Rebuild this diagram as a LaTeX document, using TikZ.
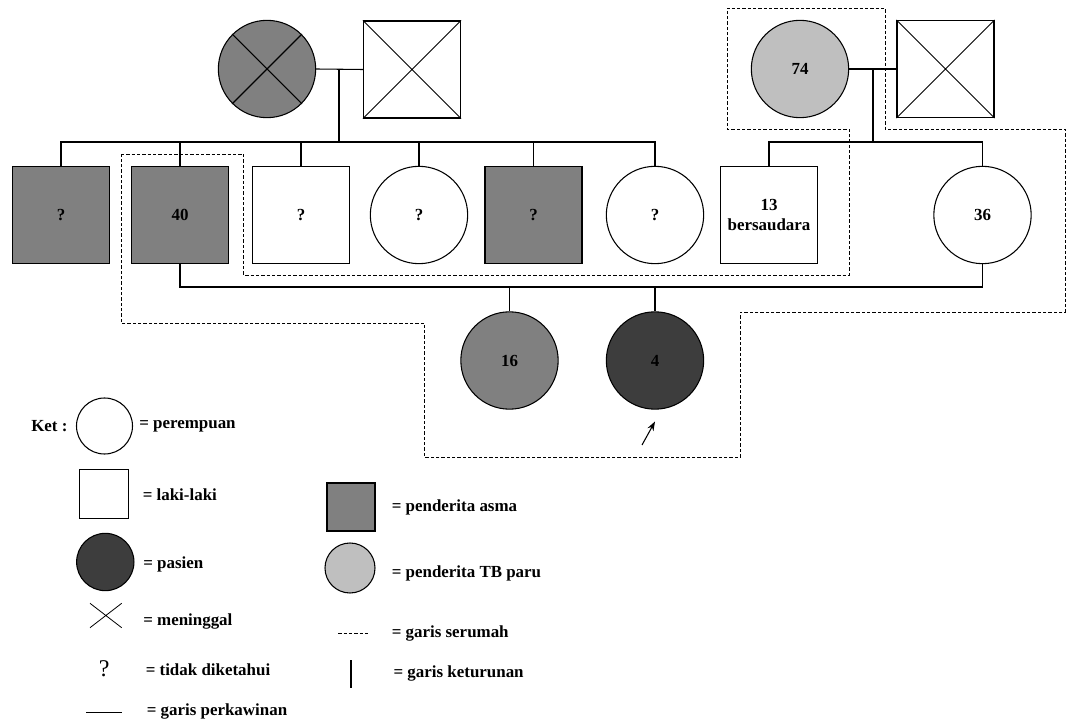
\documentclass[tikz,border=0pt]{standalone}
\usepackage{fontspec}
\setmainfont{Liberation Serif}
\usetikzlibrary{arrows.meta}

\begin{document}
\begin{tikzpicture}[
  x=0.75pt, y=-0.75pt,
  font=\bfseries\fontsize{12.7}{15.5}\selectfont,
  person/.style={draw=black, line width=0.8pt, inner sep=0pt, align=center},
  female/.style={person, circle, minimum size=73pt},
  male/.style={person, rectangle, minimum size=72.75pt},
  asma/.style={fill=black!50},
  tbparu/.style={fill=black!25},
  pasien/.style={fill=black!76},
  kin/.style={draw=black, line width=0.8pt},
  house/.style={draw=black, line width=0.6pt, dash pattern=on 2.4pt off 1.6pt},
  lab/.style={anchor=west, inner sep=0pt}
]
\useasboundingbox (0,0) rectangle (1075,720);

% generasi I
\node[female, asma] (nenek) at (267,69) {};
\draw[kin] (nenek.north west) -- (nenek.south east) (nenek.north east) -- (nenek.south west);
\node[male] (kakek) at (412,69.5) {};
\draw[kin, line width=0.6pt] (kakek.north west) -- (kakek.south east) (kakek.north east) -- (kakek.south west);
\node[female, tbparu] (nenekb) at (800,69) {74};
\node[male] (kakekb) at (945.5,69) {};
\draw[kin, line width=0.6pt] (kakekb.north west) -- (kakekb.south east) (kakekb.north east) -- (kakekb.south west);

\coordinate (ka) at (339,69);
\coordinate (sa) at (339,142);
\coordinate (kb) at (873,69);
\coordinate (sb) at (873,142);
\draw[kin] (nenek.east) -- (kakek.west);
\draw[kin] (ka) -- (sa);
\draw[kin] (nenekb.east) -- (kakekb.west);
\draw[kin] (kb) -- (sb);

% generasi II
\node[male, asma] (a1) at (61,215) {?};
\node[male, asma] (a2) at (180,215) {40};
\node[male] (a3) at (301,215) {?};
\node[female] (a4) at (419,215) {?};
\node[male, asma] (a5) at (533.5,215) {?};
\node[female] (a6) at (655,215) {?};
\node[male] (b1) at (769,215) {13\\bersaudara};
\node[female] (b2) at (982.5,215) {36};

\draw[kin] (a1.north) |- (sa) -| (a6.north);
\foreach \n in {a2,a3,a4,a5}
  \draw[kin] (\n.north) -- (\n.north |- sa);
\draw[kin] (b1.north) |- (sb) -| (b2.north);

% generasi III
\coordinate (m1) at (509.5,287);
\coordinate (m2) at (655,287);
\draw[kin] (a2.south) |- (m1) -- (m2) -| (b2.south);
\node[female, asma] (c1) at (509.5,360.5) {16};
\node[female, pasien] (c2) at (655,360.5) {4};
\draw[kin] (m1) -- (c1.north);
\draw[kin] (m2) -- (c2.north);

\coordinate (tunjuk) at (642,445);
\coordinate (ujung) at (655,421.5);
\draw[kin, -{Stealth[length=7pt, width=5pt]}] (tunjuk) -- (ujung);

% garis serumah
\draw[house] (121,154) -- (243.5,154) -- (243.5,275) -- (849,275) -- (849,129)
  -- (727,129) -- (727,8) -- (885,8) -- (885,129) -- (1065,129) -- (1065,312)
  -- (740.5,312) -- (740.5,457) -- (424.5,457) -- (424.5,323) -- (121,323) -- cycle;

% keterangan
\node[lab] (ket) at (31,426.5) {Ket :};
\node[female, minimum size=42pt] (lperempuan) at (104.5,426) {};
\node[lab] (tperempuan) at (139,426.5) {= perempuan};
\node[male, minimum size=36.75pt] (llaki) at (104,494) {};
\node[lab] (tlaki) at (142.5,495) {= laki-laki};
\node[female, pasien, minimum size=43pt] (lpasien) at (105.3,562) {};
\node[lab] (tpasien) at (143,564) {= pasien};
\draw[kin, line width=0.6pt] (90,603.3) -- (121.7,627.7) (90,627.7) -- (121.7,603.3);
\node[lab] (tmeninggal) at (143,621.5) {= meninggal};
\node[inner sep=0pt, font=\mdseries\fontsize{18}{20}\selectfont] (ltidak) at (104.3,669) {?};
\node[lab] (ttidak) at (145.5,670) {= tidak diketahui};
\draw[kin] (86,712.5) -- (121.7,712.5);
\node[lab] (tkawin) at (146.5,711.5) {= garis perkawinan};

\node[male, asma, minimum size=36pt] (lasma) at (351,507) {};
\node[lab] (tasma) at (391.5,507.5) {= penderita asma};
\node[female, tbparu, minimum size=37.5pt] (ltb) at (350,568) {};
\node[lab] (ttb) at (391.5,573) {= penderita TB paru};
\draw[house, line width=0.5pt] (338.3,633.3) -- (369.3,633.3);
\node[lab] (tserumah) at (391.5,633.3) {= garis serumah};
\draw[kin, line width=1.1pt] (351,660) -- (351,687.7);
\node[lab] (tketurunan) at (393.3,673.3) {= garis keturunan};
\end{tikzpicture}
\end{document}
